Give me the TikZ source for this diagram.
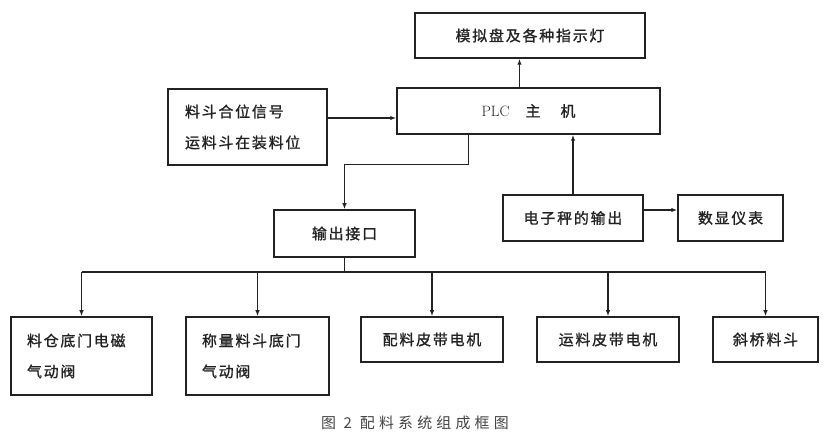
\documentclass[tikz,border=0pt]{standalone}
\usepackage{fontspec}
\newfontfamily\cjk{Noto Sans CJK SC}[LetterSpace=12,FakeBold=1.2]
\newfontfamily\cjkcap{Noto Sans CJK SC}[LetterSpace=28]
\usetikzlibrary{arrows.meta}
\definecolor{ink}{HTML}{222222}

\begin{document}
\begin{tikzpicture}[x=1bp,y=-1bp,
    blk/.style={draw=ink,line width=1.5bp,inner sep=0pt,minimum height=46bp,
      font=\cjk\fontsize{15}{31}\selectfont,text=ink},
    twoline/.style={align=left,text width=#1,inner xsep=16bp,minimum height=78bp},
    wire/.style={draw=ink,line width=1.3bp},
    arr/.style={wire,-{Latex[length=6bp,width=4.5bp]}}]
      \useasboundingbox (0,0) rectangle (830,436);
      % upper part
      \node[blk,minimum width=230bp,minimum height=45bp] (lamp) at (530,35.5) {模拟盘及各种指示灯};
      \node[blk,minimum width=263bp,font=\fontsize{15}{16}\selectfont] (plc) at (528.5,111)
        {PLC\hspace{16bp}{\cjk 主}\hspace{20bp}{\cjk 机}};
      \node[blk,twoline=125bp,inner xsep=17bp,minimum height=76bp] (sig) at (247.5,127)
        {料斗合位信号\\运料斗在装料位};
      \node[blk,minimum width=141bp,minimum height=47bp] (out) at (344.5,233.5) {输出接口};
      \node[blk,minimum width=140bp] (scale) at (573,218) {电子秤的输出};
      \node[blk,minimum width=105bp] (disp) at (730.5,218) {数显仪表};
      % actuators
      \node[blk,twoline=109bp] (valve1) at (81.5,356) {料仓底门电磁\\气动阀};
      \node[blk,twoline=111bp] (valve2) at (257.5,356) {称量料斗底门\\气动阀};
      \node[blk,minimum width=142bp,minimum height=45bp] (belt1) at (432,339.5) {配料皮带电机};
      \node[blk,minimum width=142bp,minimum height=45bp] (belt2) at (608,339.5) {运料皮带电机};
      \node[blk,minimum width=105bp,minimum height=45bp] (hopper) at (765.5,339.5) {斜桥料斗};
      \node[font=\cjkcap\fontsize{15}{16}\selectfont,text=ink!85] (cap) at (415,423)
        {图 2\hspace{8bp}配料系统组成框图};
      \coordinate (bus) at (344.5,272);
      % connectors
      \draw[arr] ([yshift=9bp]sig.east) -- ([yshift=9bp]sig.east -| plc.west);
      \draw[arr] ([xshift=-9bp]plc.north) -- ([xshift=-9bp]plc.north |- lamp.south);
      \draw[arr] ([xshift=-60bp]plc.south) -- ++(0,30) -| (out.north);
      \draw[arr] (scale.north) -- (scale.north |- plc.south);
      \draw[arr] ([yshift=8bp]scale.east) -- ([yshift=8bp]scale.east -| disp.west);
      \draw[wire] (out.south) -- (bus);
      \draw[wire] (valve1.north |- bus) -- (hopper.north |- bus);
      \draw[arr] (valve1.north |- bus) -- (valve1.north);
      \draw[arr] (valve2.north |- bus) -- (valve2.north);
      \draw[arr] (belt1.north |- bus) -- (belt1.north);
      \draw[arr] (belt2.north |- bus) -- (belt2.north);
      \draw[arr] (hopper.north |- bus) -- (hopper.north);
    \end{tikzpicture}
\end{document}
